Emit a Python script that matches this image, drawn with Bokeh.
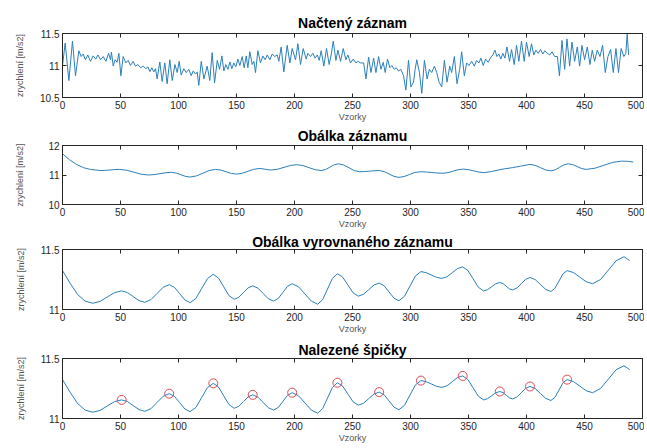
from bokeh.plotting import figure
from bokeh.layouts import column
from bokeh.models import LinearAxis, FixedTicker, Range1d
from bokeh.embed import file_html
from bokeh.resources import INLINE

# ---- data ----
x_ticks = [0, 50, 100, 150, 200, 250, 300, 350, 400, 450, 500]

raw_x = [0, 2.3, 5.5, 8.6, 11.2, 14.1, 16.1, 17.8, 19.8, 21.8, 24.1, 26.4, 28.7, 30.5, 32.8, 35.1,
         37.4, 39.7, 41.4, 42.2, 43.7, 45.4, 47.1, 48.6, 50.3, 52.3, 54.6, 56.6, 58.6, 60.9, 62.9,
         65.0, 67.3, 69.6, 71.9, 73.6, 75.3, 77.0, 78.7, 80.2, 81.6, 83.9, 85.9, 88.2, 90.2, 92.5,
         94.6, 96.9, 98.9, 100.6, 102.3, 104.6, 106.6, 108.9, 110.9, 112.7, 114.7, 116.1, 117.5,
         119.6, 121.9, 124.7, 127.0, 129.0, 131.1, 133.4, 135.4, 137.4, 139.1, 140.8, 142.6, 144.3,
         146.0, 147.7, 149.4, 151.2, 152.9, 154.9, 156.6, 158.4, 159.8, 161.5, 163.5, 165.0, 166.4,
         168.4, 170.7, 172.7, 174.7, 176.5, 178.8, 180.8, 182.8, 185.1, 186.5, 188.5, 190.8, 193.7,
         196.0, 198.0, 200.9, 202.9, 205.2, 207.5, 210.1, 211.5, 213.8, 215.8, 217.8, 219.6, 221.3,
         223.0, 225.3, 227.6, 229.9, 231.6, 233.4, 235.7, 237.4, 239.7, 242.0, 244.3, 246.0, 248.3,
         250.6, 253.0, 254.7, 257.0, 259.6, 261.6, 263.9, 265.9, 268.2, 270.2, 272.5, 274.5, 276.5,
         278.2, 280.2, 282.2, 283.9, 285.9, 287.7, 289.7, 291.7, 294.0, 296.0, 298.3, 300.3, 302.6,
         304.0, 305.4, 307.7, 309.7, 312.0, 314.3, 316.3, 318.3, 320.6, 322.6, 324.6, 326.9, 329.2,
         331.5, 333.8, 335.5, 337.8, 340.1, 342.4, 344.1, 346.4, 348.4, 350.4, 352.7, 355.0, 357.0,
         359.0, 360.7, 362.7, 364.7, 367.0, 369.3, 371.0, 372.8, 374.5, 376.2, 377.9, 379.6, 381.4,
         383.1, 385.4, 387.1, 389.4, 391.4, 393.4, 395.7, 398.0, 400.0, 402.3, 404.3, 406.3, 408.1,
         410.1, 412.1, 414.1, 415.8, 418.1, 420.1, 422.0, 424.3, 426.6, 428.4, 430.6, 432.9, 434.9,
         437.2, 439.2, 441.5, 443.8, 445.8, 447.8, 450.1, 452.4, 454.7, 456.7, 458.7, 461.0, 463.3,
         465.6, 467.9, 470.2, 472.5, 474.8, 477.1, 479.3, 481.6, 483.9, 485.6, 486.8, 488.0]
raw_y = [11.0, 11.35, 10.765, 11.38, 10.84, 11.23, 11.14, 11.18, 11.09, 11.165, 11.065, 11.15, 11.10,
         11.165, 11.09, 11.14, 11.065, 11.19, 11.09, 11.21, 10.99, 11.09, 11.05, 11.19, 10.84, 11.14,
         11.04, 11.08, 11.0, 11.065, 10.99, 11.015, 10.965, 10.99, 10.95, 10.98, 10.905, 10.965, 10.90,
         10.95, 10.79, 11.055, 10.75, 11.04, 10.715, 11.09, 10.765, 11.015, 10.89, 11.065, 10.85, 10.95,
         10.89, 10.94, 10.84, 10.915, 10.865, 10.90, 10.69, 11.065, 10.79, 10.99, 10.765, 11.20, 10.73,
         11.08, 10.94, 11.15, 10.915, 11.015, 10.94, 11.055, 10.95, 11.04, 10.98, 11.10, 11.0, 11.14,
         10.965, 11.15, 10.965, 11.215, 11.015, 11.065, 10.89, 11.23, 11.04, 11.15, 11.09, 11.165, 11.09,
         11.18, 11.14, 11.165, 11.065, 11.29, 10.90, 11.315, 11.04, 11.265, 11.09, 11.34, 11.015, 11.265,
         11.10, 11.19, 11.14, 11.19, 11.115, 11.165, 11.08, 11.23, 10.99, 11.265, 11.015, 11.165, 11.38,
         11.08, 11.24, 11.065, 11.265, 11.09, 11.165, 11.04, 11.10, 11.04, 11.065, 11.04, 11.04, 10.79,
         11.13, 10.89, 11.115, 10.89, 11.14, 10.94, 11.05, 10.89, 11.10, 10.965, 11.0, 10.94, 10.965,
         10.915, 10.94, 10.84, 10.615, 11.08, 10.665, 10.74, 10.94, 11.09, 10.89, 10.565, 11.08, 10.79,
         10.94, 10.89, 10.99, 10.89, 10.74, 10.665, 11.08, 10.74, 10.99, 10.89, 11.14, 10.715, 10.94,
         11.215, 10.84, 11.04, 11.0, 11.065, 10.99, 11.08, 11.04, 11.115, 11.0, 11.10, 11.05, 11.13,
         11.165, 11.24, 11.14, 11.18, 11.10, 11.19, 11.115, 11.29, 11.065, 11.25, 11.015, 11.315, 11.065,
         11.38, 11.065, 11.365, 11.14, 11.34, 11.165, 11.24, 11.19, 11.25, 11.18, 11.23, 11.19, 11.165,
         11.215, 11.14, 11.14, 10.84, 11.39, 10.94, 11.415, 10.99, 11.365, 11.065, 11.29, 10.99, 11.315,
         11.09, 11.29, 11.015, 11.24, 11.065, 11.24, 11.14, 11.315, 10.89, 11.14, 11.25, 10.89, 11.265,
         10.89, 11.265, 11.14, 11.19, 11.49, 11.165]

env_x = [0, 6, 12, 18, 24, 33, 37, 41, 45, 49, 55.25, 61.5, 67.75, 74, 79, 84, 89, 94, 98, 102, 106,
         110, 115.5, 121, 126.5, 132, 136.5, 141, 145.5, 150, 154.9, 159.75, 164.6, 169.5, 172, 174.75,
         177.4, 180, 185.5, 191, 196.5, 202, 207.25, 212.5, 217.75, 223, 226.75, 230.5, 234.25, 238,
         242.5, 247, 251.5, 256, 260.25, 264.5, 268.75, 273, 277.25, 281.5, 285.75, 290, 294.5, 299,
         303.5, 308, 313, 318, 323, 328, 332.4, 336.75, 341.1, 345.5, 350, 354.5, 359, 363.5, 370, 378,
         388, 395, 403, 407.5, 412, 416.5, 421, 424.75, 428.5, 432.25, 436, 439.9, 443.75, 447.6, 451.5,
         459.1, 466.75, 474.4, 482, 487, 492]
env_y = [11.72, 11.52, 11.36, 11.25, 11.19, 11.15, 11.156, 11.17, 11.184, 11.19, 11.162, 11.095,
         11.028, 11.0, 11.0135, 11.045, 11.0765, 11.09, 11.066, 11.01, 10.954, 10.93, 10.969, 11.06,
         11.151, 11.19, 11.166, 11.11, 11.054, 11.03, 11.0585, 11.125, 11.19, 11.22, 11.2125, 11.195,
         11.1775, 11.17, 11.197, 11.26, 11.323, 11.35, 11.32, 11.25, 11.18, 11.15, 11.1845, 11.265,
         11.3455, 11.38, 11.3395, 11.245, 11.1505, 11.11, 11.116, 11.13, 11.144, 11.15, 11.1155,
         11.035, 10.9545, 10.92, 10.9485, 11.015, 11.0815, 11.11, 11.1025, 11.085, 11.0675, 11.06,
         11.081, 11.13, 11.179, 11.2, 11.182, 11.14, 11.098, 11.08, 11.12, 11.19, 11.25, 11.30, 11.36,
         11.327, 11.25, 11.173, 11.14, 11.176, 11.26, 11.344, 11.38, 11.352, 11.285, 11.218, 11.19,
         11.231, 11.33, 11.429, 11.47, 11.465, 11.44]

flat_x = [0, 6.5, 13, 19.5, 26, 32.25, 38.5, 44.75, 51, 56, 61, 66, 71, 76.25, 81.5, 86.75, 92, 96.5,
          101, 105.5, 110, 115, 120, 125, 130, 134.5, 139, 143.5, 148, 152, 156, 160, 164, 168.5, 173,
          177.5, 182, 186, 190, 194, 198, 203.5, 209, 214.5, 220, 224.25, 228.5, 232.75, 237, 241.5,
          246, 250.5, 255, 259.5, 264, 268.5, 273, 277.25, 281.5, 285.75, 290, 294.75, 299.5, 304.25,
          309, 313.5, 318, 322.5, 327, 331.5, 336, 340.5, 345, 349.5, 354, 358.5, 363, 366.5, 370,
          373.5, 377, 379.75, 382.5, 385.25, 388, 391.75, 395.5, 399.25, 403, 407.5, 412, 416.5, 421,
          424.5, 428, 431.5, 435, 440.5, 446, 451.5, 457, 463.75, 470.5, 477.25, 484, 489]
flat_y = [11.324, 11.22, 11.125, 11.07, 11.052, 11.067, 11.1035, 11.14, 11.155, 11.141, 11.1075,
          11.074, 11.06, 11.082, 11.1335, 11.185, 11.207, 11.1845, 11.132, 11.0795, 11.057, 11.092,
          11.175, 11.258, 11.293, 11.262, 11.189, 11.116, 11.085, 11.102, 11.141, 11.18, 11.197,
          11.178, 11.1335, 11.089, 11.07, 11.092, 11.1425, 11.193, 11.215, 11.189, 11.1295, 11.07,
          11.044, 11.082, 11.171, 11.26, 11.298, 11.27, 11.2045, 11.139, 11.111, 11.127, 11.1655,
          11.204, 11.22, 11.198, 11.1465, 11.095, 11.073, 11.109, 11.1945, 11.28, 11.316, 11.307,
          11.2875, 11.268, 11.259, 11.273, 11.307, 11.341, 11.355, 11.325, 11.255, 11.185, 11.155,
          11.1655, 11.19, 11.2145, 11.225, 11.216, 11.194, 11.172, 11.163, 11.179, 11.215, 11.251,
          11.267, 11.2495, 11.2085, 11.168, 11.15, 11.176, 11.237, 11.298, 11.324, 11.308, 11.2695,
          11.231, 11.215, 11.249, 11.3275, 11.406, 11.44, 11.407]

peak_x = [51, 92, 130, 164, 198, 237, 273, 309, 345, 377, 403, 435]
peak_y = [11.155, 11.207, 11.293, 11.197, 11.215, 11.298, 11.22, 11.316, 11.355, 11.225, 11.267, 11.324]

titles = ["Načtený záznam", "Obálka záznamu", "Obálka vyrovnaného záznamu", "Nalezené špičky"]
y_ranges = [(10.5, 11.5), (10, 12), (11, 11.5), (11, 11.5)]
y_ticks = [[10.5, 11, 11.5], [10, 11, 12], [11, 11.5], [11, 11.5]]
x_label = "Vzorky"
y_label = "zrychlení [m/s2]"

# ---- styling ----
LINE = "#2b7fba"
AX = "#262626"
FONT = "Liberation Sans"

# (height, border_top, border_bottom, ylabel_standoff, title_standoff, xlabel_standoff)
layout_spec = [
    (124, 33, 24, 12, 6, 0),
    (107, 21, 22, 20, 3, 0),
    (105, 17, 22, 12, 0, 0),
    (109, 22, 24, 12, 1, 0),
]


def style_axis(ax, ticks, show_labels=True):
    ax.ticker = FixedTicker(ticks=ticks)
    ax.major_tick_in = 4
    ax.major_tick_out = 0
    ax.minor_tick_line_color = None
    ax.axis_line_color = AX
    ax.major_tick_line_color = AX
    ax.major_label_text_font = FONT
    ax.major_label_text_font_size = "10px"
    if show_labels:
        ax.major_label_text_color = AX
        ax.major_label_standoff = 3
    else:
        ax.major_label_text_color = None
        ax.major_label_standoff = 0
    ax.axis_label_text_font = FONT
    ax.axis_label_text_font_style = "normal"
    ax.axis_label_text_font_size = "9px"
    ax.axis_label_text_color = "#555555"


figs = []
for i in range(4):
    h, bt, bb, ylst, tst, xlst = layout_spec[i]
    p = figure(width=644, height=h, x_range=Range1d(0, 500), y_range=Range1d(*y_ranges[i]),
               output_backend="svg", toolbar_location=None,
               min_border_left=62, min_border_right=2, min_border_top=bt, min_border_bottom=bb)
    p.xgrid.visible = False
    p.ygrid.visible = False
    p.outline_line_color = AX
    p.background_fill_color = "white"
    p.border_fill_color = "white"
    p.title.text = titles[i]
    p.title.align = "center"
    p.title.text_font = FONT
    p.title.text_font_size = "14px"
    p.title.text_font_style = "bold"
    p.title.text_color = "#000000"
    p.title.standoff = tst

    style_axis(p.xaxis[0], x_ticks)
    style_axis(p.yaxis[0], y_ticks[i])
    p.xaxis[0].axis_label = x_label
    p.xaxis[0].axis_label_standoff = xlst
    p.yaxis[0].axis_label = y_label
    p.yaxis[0].axis_label_standoff = ylst

    top_ax = LinearAxis()
    style_axis(top_ax, x_ticks, show_labels=False)
    p.add_layout(top_ax, "above")
    right_ax = LinearAxis()
    style_axis(right_ax, y_ticks[i], show_labels=False)
    p.add_layout(right_ax, "right")
    figs.append(p)

figs[0].line(raw_x, raw_y, line_color=LINE, line_width=1)
figs[1].line(env_x, env_y, line_color=LINE, line_width=1)
figs[2].line(flat_x, flat_y, line_color=LINE, line_width=1)
figs[3].line(flat_x, flat_y, line_color=LINE, line_width=1)
figs[3].scatter(peak_x, peak_y, marker="circle", size=9, fill_color=None,
                line_color="#dd4a55", line_width=1)

layout = column(*figs, spacing=0)
open("out.html", "w").write(file_html(layout, INLINE))
